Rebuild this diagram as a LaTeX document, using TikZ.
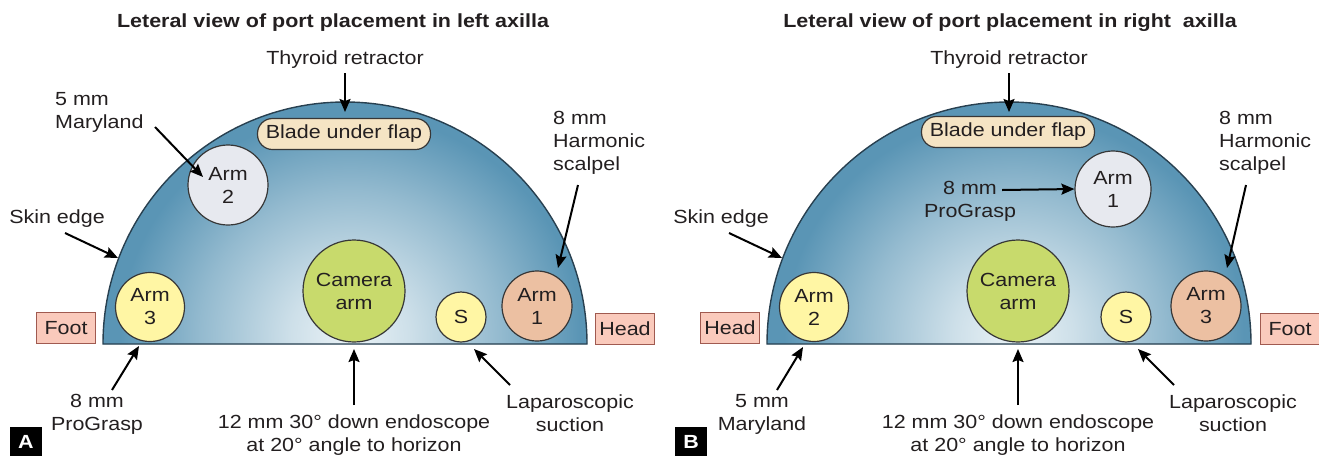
\documentclass[tikz,border=0pt]{standalone}
\usepackage{fontspec}
\setmainfont{Liberation Sans}[FakeStretch=1.13]
\usetikzlibrary{arrows.meta}

\definecolor{skinblue}{RGB}{90,149,181}
\definecolor{glowwhite}{RGB}{234,242,246}
\definecolor{domeline}{RGB}{40,64,80}
\definecolor{portline}{RGB}{55,55,55}
\definecolor{greyport}{RGB}{231,233,239}
\definecolor{yellowport}{RGB}{255,246,164}
\definecolor{cameraport}{RGB}{200,218,108}
\definecolor{peachport}{RGB}{236,192,162}
\definecolor{bladefill}{RGB}{245,228,196}
\definecolor{tagfill}{RGB}{250,202,188}
\definecolor{tagline}{RGB}{160,90,80}
\definecolor{inkcol}{RGB}{35,31,32}

\pgfdeclareradialshading{domeglow}{\pgfpoint{0bp}{0bp}}{%
  color(0bp)=(glowwhite); color(6bp)=(glowwhite!80!skinblue);
  color(15bp)=(glowwhite!40!skinblue); color(23bp)=(skinblue); color(50bp)=(skinblue)}

\begin{document}
\begin{tikzpicture}[x=1pt, y=-1pt, >={Stealth[length=13pt,width=11pt,inset=2pt]},
  font=\fontsize{19}{23}\selectfont, text=inkcol,
  port/.style={circle, draw=portline, line width=1.2pt, align=center, inner sep=0pt},
  tag/.style={draw=tagline, fill=tagfill, line width=1pt, minimum width=59pt, minimum height=31pt, inner sep=0pt},
  blade/.style={draw=portline, fill=bladefill, line width=1.2pt, rounded corners=15pt, minimum width=173pt, minimum height=31pt, inner sep=0pt},
  note/.style={align=center, inner sep=2pt},
  heading/.style={font=\fontsize{19}{23}\selectfont\bfseries},
  panel/.style={fill=black, text=white, font=\fontsize{19}{23}\selectfont\bfseries, minimum width=32pt, minimum height=29pt, inner sep=0pt},
  pointer/.style={->, line width=2pt, draw=black}]
  \useasboundingbox (0,0) rectangle (1319,456);

  % Panel A: left axilla
  \begin{scope}[name prefix=a-]
    % Dome of the skin flap
    \fill[skinblue] (103,344) arc[start angle=180, end angle=360, radius=242] -- cycle;
    \begin{scope}
      \clip (103,344) arc[start angle=180, end angle=360, radius=242] -- cycle;
      \shade[shading=domeglow] (350,335) ellipse [x radius=250, y radius=240];
    \end{scope}
    \draw[domeline, line width=1.4pt] (103,344) arc[start angle=180, end angle=360, radius=242] -- cycle;

    \node[heading] (title) at (333,23) {Leteral view of port placement in left axilla};

    % Ports
    \node[blade] (blade) at (344,134) {Blade under flap};
    \node[port, fill=greyport, minimum size=80pt] (armtwo) at (228,185) {Arm\\2};
    \node[port, fill=yellowport, minimum size=69pt] (armthree) at (150,307) {Arm\\3};
    \node[port, fill=cameraport, minimum size=102pt] (camera) at (354,291) {Camera\\arm};
    \node[port, fill=yellowport, minimum size=50pt] (suction) at (461,317) {S};
    \node[port, fill=peachport, minimum size=70pt] (armone) at (537,306) {Arm\\1};

    % Foot and head
    \node[tag] (foot) at (66,328) {Foot};
    \node[tag] (head) at (625,329) {Head};

    % Labels
    \node[note] (thyroid) at (345,60) {Thyroid retractor};
    \node[note, align=left, anchor=west] (maryland) at (53,112) {5 mm\\Maryland};
    \node[note, align=left, anchor=west] (harmonic) at (551,143) {8 mm\\Harmonic\\scalpel};
    \node[note] (skin) at (57,219) {Skin edge};
    \node[note] (prograsp) at (97,414) {8 mm\\ProGrasp};
    \node[note] (endoscope) at (354,435) {12 mm 30° down endoscope\\at 20° angle to horizon};
    \node[note] (lap) at (570,413) {Laparoscopic\\suction};
    \node[panel] (mark) at (26,441.5) {A};

    % Arrow ends
    \coordinate (thyroidtail) at (345,73);   \coordinate (thyroidtip) at (345,112);
    \coordinate (marytail) at (155,127);     \coordinate (marytip) at (203,177);
    \coordinate (harmtail) at (578,185);     \coordinate (harmtip) at (558,268);
    \coordinate (skintail) at (65,233);      \coordinate (skintip) at (118,258);
    \coordinate (grasptail) at (112,390);    \coordinate (grasptip) at (139,346);
    \coordinate (camtail) at (354,405);      \coordinate (camtip) at (354,349);
    \coordinate (laptail) at (510,385);      \coordinate (laptip) at (474,349);

    % Arrows
    \draw[pointer] (thyroidtail) -- (thyroidtip);
    \draw[pointer] (marytail) -- (marytip);
    \draw[pointer] (harmtail) -- (harmtip);
    \draw[pointer] (skintail) -- (skintip);
    \draw[pointer] (grasptail) -- (grasptip);
    \draw[pointer] (camtail) -- (camtip);
    \draw[pointer] (laptail) -- (laptip);
  \end{scope}

  % Panel B: right axilla
  \begin{scope}[shift={(664,0)}, name prefix=b-]
    % Dome of the skin flap
    \fill[skinblue] (103,344) arc[start angle=180, end angle=360, radius=242] -- cycle;
    \begin{scope}
      \clip (103,344) arc[start angle=180, end angle=360, radius=242] -- cycle;
      \shade[shading=domeglow] (350,335) ellipse [x radius=250, y radius=240];
    \end{scope}
    \draw[domeline, line width=1.4pt] (103,344) arc[start angle=180, end angle=360, radius=242] -- cycle;

    \node[heading] (title) at (346,23) {Leteral view of port placement in right\ \ axilla};

    % Ports
    \node[blade] (blade) at (344,132) {Blade under flap};
    \node[port, fill=greyport, minimum size=76pt] (armone) at (449,189) {Arm\\1};
    \node[port, fill=yellowport, minimum size=69pt] (armtwo) at (150,307) {Arm\\2};
    \node[port, fill=cameraport, minimum size=102pt] (camera) at (354,291) {Camera\\arm};
    \node[port, fill=yellowport, minimum size=50pt] (suction) at (462,317) {S};
    \node[port, fill=peachport, minimum size=70pt] (armthree) at (542,306) {Arm\\3};

    % Head and foot
    \node[tag] (head) at (66,328) {Head};
    \node[tag] (foot) at (626,329) {Foot};

    % Labels
    \node[note] (thyroid) at (345,60) {Thyroid retractor};
    \node[note] (prograsp) at (306,201) {8 mm\\ProGrasp};
    \node[note, align=left, anchor=west] (harmonic) at (553,143) {8 mm\\Harmonic\\scalpel};
    \node[note] (skin) at (57,219) {Skin edge};
    \node[note] (maryland) at (98,414) {5 mm\\Maryland};
    \node[note] (endoscope) at (354,435) {12 mm 30° down endoscope\\at 20° angle to horizon};
    \node[note] (lap) at (569,413) {Laparoscopic\\suction};
    \node[panel] (mark) at (27,441.5) {B};

    % Arrow ends
    \coordinate (thyroidtail) at (345,73);   \coordinate (thyroidtip) at (345,112);
    \coordinate (grasptail) at (338,190);
    \coordinate (harmtail) at (582,185);     \coordinate (harmtip) at (563,268);
    \coordinate (skintail) at (65,233);      \coordinate (skintip) at (118,258);
    \coordinate (marytail) at (113,390);     \coordinate (marytip) at (139,347);
    \coordinate (camtail) at (354,405);      \coordinate (camtip) at (354,349);
    \coordinate (laptail) at (510,385);      \coordinate (laptip) at (474,349);

    % Arrows
    \draw[pointer] (thyroidtail) -- (thyroidtip);
    \draw[pointer] (grasptail) -- (armone.west);
    \draw[pointer] (harmtail) -- (harmtip);
    \draw[pointer] (skintail) -- (skintip);
    \draw[pointer] (marytail) -- (marytip);
    \draw[pointer] (camtail) -- (camtip);
    \draw[pointer] (laptail) -- (laptip);
  \end{scope}
\end{tikzpicture}
\end{document}
